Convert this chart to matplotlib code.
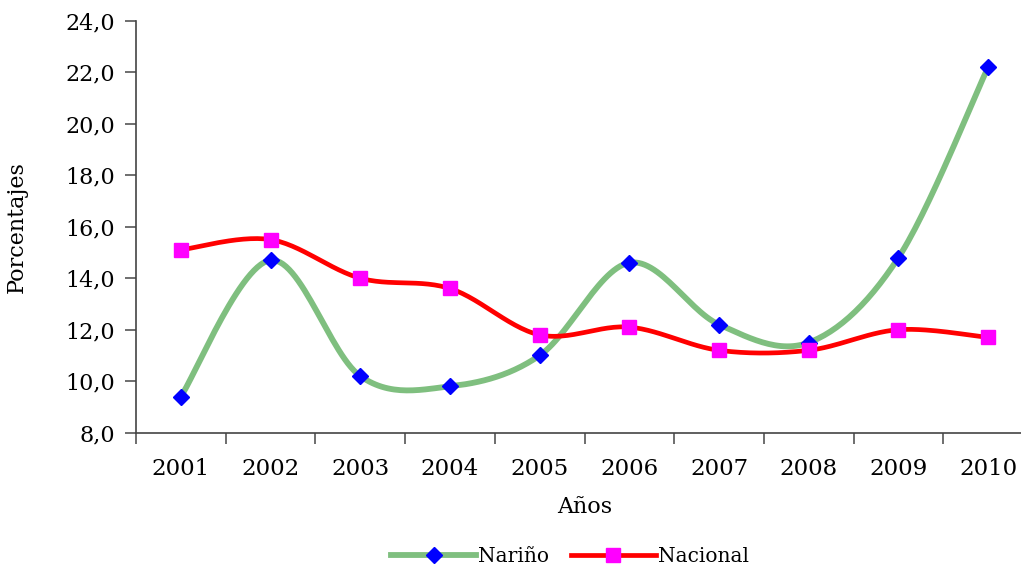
import numpy as np
import matplotlib.pyplot as plt
from matplotlib.ticker import FuncFormatter

years = ['2001', '2002', '2003', '2004', '2005', '2006', '2007', '2008', '2009', '2010']
narino = [9.4, 14.7, 10.2, 9.8, 11.0, 14.6, 12.2, 11.5, 14.8, 22.2]
nacional = [15.1, 15.5, 14.0, 13.6, 11.8, 12.1, 11.2, 11.2, 12.0, 11.7]


def smooth(x, y, n=30):
    # Excel-style smoothed line: cubic Bezier with Catmull-Rom control points
    x = np.asarray(x, float)
    y = np.asarray(y, float)
    px = np.concatenate(([x[0]], x, [x[-1]]))
    py = np.concatenate(([y[0]], y, [y[-1]]))
    t = np.linspace(0, 1, n)
    xs, ys = [], []
    for i in range(1, len(px) - 2):
        p0 = np.array([px[i], py[i]])
        p3 = np.array([px[i + 1], py[i + 1]])
        c1 = p0 + (p3 - np.array([px[i - 1], py[i - 1]])) / 6
        c2 = p3 - (np.array([px[i + 2], py[i + 2]]) - p0) / 6
        b = ((1 - t) ** 3)[:, None] * p0 + (3 * (1 - t) ** 2 * t)[:, None] * c1 \
            + (3 * (1 - t) * t ** 2)[:, None] * c2 + (t ** 3)[:, None] * p3
        xs.append(b[:, 0])
        ys.append(b[:, 1])
    return np.concatenate(xs), np.concatenate(ys)


plt.rcParams['font.family'] = 'DejaVu Serif'

fig = plt.figure(figsize=(10.21, 5.70), dpi=100)
ax = fig.add_axes([136 / 1021, 1 - 432.7 / 570, (1033 - 136) / 1021, (432.7 - 20.7) / 570])

x = np.arange(len(years))
gx, gy = smooth(x, narino)
rx, ry = smooth(x, nacional)

ax.plot(gx, gy, color='#7fbf7f', lw=4.2, zorder=2)
ax.plot(rx, ry, color='#ff0000', lw=3.4, zorder=3)
ax.plot(x, narino, ls='none', marker='D', ms=8.5, mfc='#0000ff', mec='#0000ff', zorder=4)
ax.plot(x, nacional, ls='none', marker='s', ms=10.5, mfc='#ff00ff', mec='#ff00ff', zorder=5)

ax.set_xlim(-0.5, len(years) - 0.5)
ax.set_ylim(8, 24)
ax.set_yticks(np.arange(8, 24.1, 2))
ax.yaxis.set_major_formatter(FuncFormatter(lambda v, p: f'{v:.1f}'.replace('.', ',')))
ax.set_xticks(np.arange(-0.5, len(years), 1))
ax.set_xticklabels([])
ax.set_xticks(x, minor=True)
ax.set_xticklabels(years, minor=True)
ax.tick_params(axis='x', which='minor', length=0, pad=18, labelsize=16.5)
ax.tick_params(axis='x', which='major', length=8, color='#555555', width=1.2)
ax.tick_params(axis='y', length=8, color='#555555', width=1.2, labelsize=16, pad=7)

for s in ['top', 'right']:
    ax.spines[s].set_visible(False)
for s in ['left', 'bottom']:
    ax.spines[s].set_color('#444444')
    ax.spines[s].set_linewidth(1.2)

ax.set_ylabel('Porcentajes', fontsize=16, labelpad=27)
ax.set_xlabel('Años', fontsize=16, labelpad=12)

h1, = ax.plot([], [], color='#7fbf7f', lw=4.2, marker='D', ms=8.5, mfc='#0000ff', mec='#0000ff')
h2, = ax.plot([], [], color='#ff0000', lw=3.4, marker='s', ms=10.5, mfc='#ff00ff', mec='#ff00ff')
fig.legend([h1, h2], ['Nariño', 'Nacional'], loc='center', bbox_to_anchor=(570 / 1021, 1 - 557 / 570),
           ncol=2, frameon=False, fontsize=14.5, handlelength=4.2, handletextpad=0.1, columnspacing=1.1)

fig.savefig('out.png', dpi=100)
